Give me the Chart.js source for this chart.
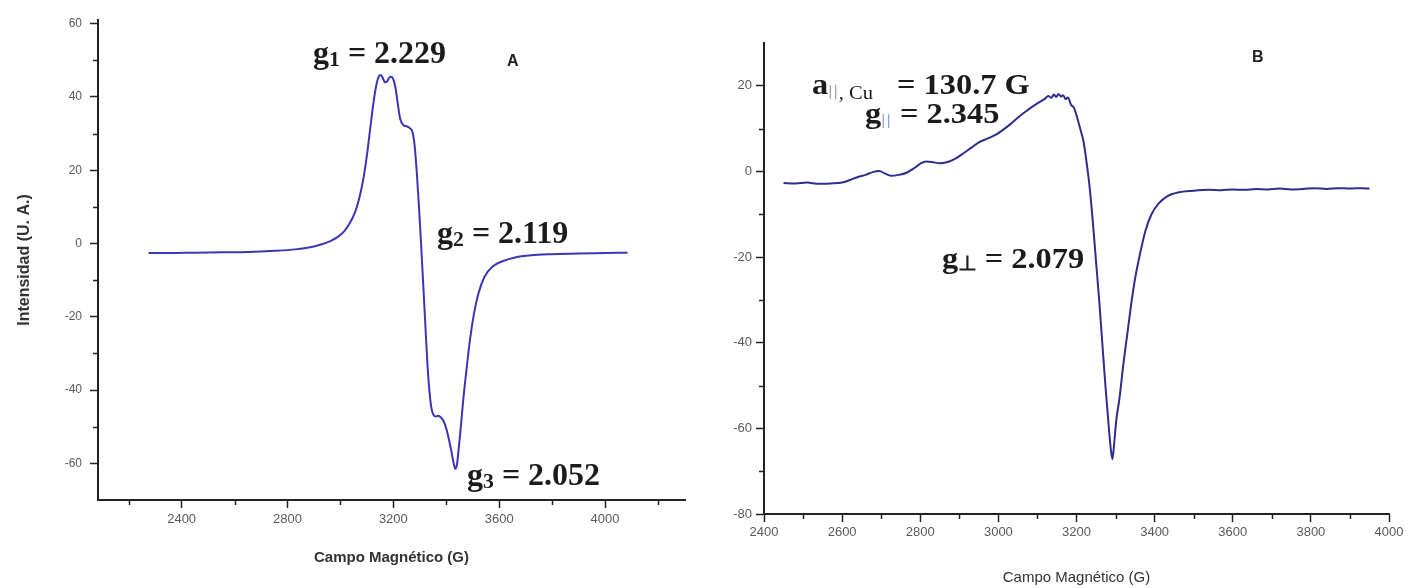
<!DOCTYPE html>
<html>
<head>
<meta charset="utf-8">
<title>Espectros EPR</title>
<script src="https://cdn.jsdelivr.net/npm/chart.js@4.4.1/dist/chart.umd.min.js"></script>
<style>
  html, body { margin: 0; padding: 0; background: #fff; }
  body { width: 1411px; height: 588px; position: relative; overflow: hidden; }
  .panel { position: absolute; top: 0; }
  #panelA { left: 0; width: 705px; height: 588px; }
  #panelB { left: 705px; width: 706px; height: 588px; }
  .lab {
    position: absolute; white-space: nowrap; color: #1b1b1b;
    font-family: "Liberation Serif", "Times New Roman", serif;
    font-weight: bold; font-size: 32px; line-height: 32px;
    transform-origin: 0 0;
  }
  .lab sub { font-size: 0.68em; vertical-align: -0.12em; line-height: 0; }
  .lab.wide { font-size: 30px; line-height: 30px; transform: scaleX(1.08); }
  .par { color: #97a4cc; font-weight: normal; font-family: "Liberation Sans", Arial, sans-serif; font-size: 15px; letter-spacing: 1px; vertical-align: -0.15em; }
  .cu { font-family: "Liberation Serif", "Times New Roman", serif; font-size: 19px; font-weight: normal; vertical-align: -0.25em; }
  .tag {
    position: absolute; color: #222;
    font-family: "Liberation Sans", Arial, sans-serif;
    font-weight: bold; font-size: 16px; line-height: 16px;
  }
</style>
</head>
<body>
<div class="panel" id="panelA"><canvas id="chartA" width="705" height="588"></canvas></div>
<div class="panel" id="panelB"><canvas id="chartB" width="706" height="588"></canvas></div>

<div class="lab" style="left:313px;top:36px">g<sub>1</sub> = 2.229</div>
<div class="tag" style="left:507px;top:53px">A</div>
<div class="lab" style="left:437px;top:216px">g<sub>2</sub> = 2.119</div>
<div class="lab" style="left:467px;top:458px">g<sub>3</sub> = 2.052</div>

<div class="tag" style="left:1252px;top:49px">B</div>
<div class="lab wide" style="left:812px;top:69px">a<span class="par">||</span><span class="cu">, Cu</span></div>
<div class="lab wide" style="left:897px;top:69px">= 130.7 G</div>
<div class="lab wide" style="left:865px;top:98px">g<span class="par">||</span> = 2.345</div>
<div class="lab wide" style="left:942px;top:243px">g<sub>⊥</sub> = 2.079</div>

<script>
// ---- Espectro A ----
const fieldA = [2275, 2350, 2450, 2550, 2650, 2750, 2830, 2880, 2920, 2960,
  2990, 3015, 3035, 3055, 3070, 3085, 3100, 3112, 3124, 3135,
  3145, 3152, 3160, 3168, 3176, 3184, 3192, 3200, 3208, 3216,
  3226, 3238, 3250, 3262, 3272, 3280, 3288, 3296, 3304, 3312,
  3320, 3328, 3336, 3344, 3352, 3360, 3370, 3380, 3390, 3400,
  3410, 3420, 3428, 3434, 3440, 3447, 3455, 3465, 3477, 3490,
  3505, 3522, 3545, 3575, 3610, 3660, 3720, 3800, 3900, 4000, 4085];
const intensityA = [-2.6, -2.6, -2.5, -2.4, -2.3, -2.0, -1.6, -1.1, -0.4, 0.6,
  1.8, 3.4, 5.5, 8.5, 12, 17, 24, 31, 38, 43,
  45.6, 46, 45.2, 44, 44.2, 45.2, 45.5, 44.8, 42.5, 38.5,
  34, 32.3, 32, 31.5, 30.5, 27, 20, 11, 1, -10,
  -21, -32, -40, -45, -46.8, -47.2, -47, -47.5, -48.5, -50.5,
  -53.5, -57, -60, -61.5, -60.5, -56, -50, -42, -34, -26,
  -19, -13.5, -9, -6.3, -4.9, -3.8, -3.2, -2.9, -2.7, -2.6, -2.5];

// ---- Espectro B ----
const fieldB = [2450, 2480, 2510, 2540, 2570, 2600, 2620, 2640, 2660, 2680,
  2695, 2710, 2725, 2745, 2765, 2785, 2800, 2815, 2830, 2850,
  2870, 2890, 2910, 2930, 2950, 2970, 2990, 3010, 3030, 3050,
  3070, 3090, 3105, 3118, 3128, 3136, 3142, 3148, 3154, 3160,
  3166, 3172, 3178, 3186, 3194, 3202, 3210, 3218, 3226, 3234,
  3242, 3250, 3258, 3266, 3274, 3282, 3288, 3292, 3296, 3302,
  3310, 3320, 3330, 3340, 3350, 3362, 3376, 3392, 3410, 3432,
  3460, 3500, 3540, 3570, 3600, 3630, 3660, 3690, 3720, 3750,
  3780, 3810, 3840, 3870, 3900, 3930, 3950];
const intensityB = [-2.7, -2.8, -2.6, -2.9, -2.8, -2.6, -2.0, -1.3, -0.8, -0.1,
  0.1, -0.5, -1.0, -0.8, -0.3, 0.8, 1.8, 2.3, 2.2, 1.9,
  2.2, 3.0, 4.2, 5.5, 6.8, 7.6, 8.4, 9.6, 11.0, 12.6,
  14.0, 15.3, 16.2, 16.9, 17.6, 17.2, 18.0, 17.4, 18.1, 17.5,
  17.8, 16.9, 17.3, 15.6, 14.8, 12.5, 9.8, 7.0, 2.0, -4.0,
  -12, -21, -30, -40, -50, -59, -65, -67.2, -64, -58,
  -53, -45, -38, -31, -25, -19.5, -14, -10, -7.5, -5.8,
  -4.9, -4.5, -4.3, -4.4, -4.2, -4.3, -4.1, -4.2, -4.0, -4.2,
  -4.1, -3.9, -4.1, -3.9, -4.0, -3.9, -4.0];

// labelled ticks
const fieldTicksA = [2400, 2800, 3200, 3600, 4000];
const intensityTicksA = [-60, -40, -20, 0, 20, 40, 60];
const fieldTicksB = [2400, 2600, 2800, 3000, 3200, 3400, 3600, 3800, 4000];
const intensityTicksB = [-80, -60, -40, -20, 0, 20];

// minor ticks sit halfway between labelled ones, inside the axis range
function minorsOf(major, min, max) {
  const half = (major[1] - major[0]) / 2;
  const out = [];
  for (let v = major[0] - half; v <= major[major.length - 1] + half; v += 2 * half) {
    if (v > min && v < max) out.push(v);
  }
  return out;
}

const minorTickPlugin = {
  id: 'minorTicks',
  afterDraw(chart, args, o) {
    const { ctx } = chart;
    const xs = chart.scales.x, ys = chart.scales.y;
    ctx.save();
    ctx.strokeStyle = o.color;
    ctx.lineWidth = o.width;
    ctx.beginPath();
    o.x.forEach(v => {
      const p = Math.round(xs.getPixelForValue(v)) + 0.5;
      ctx.moveTo(p, xs.top);
      ctx.lineTo(p, xs.top + o.len);
    });
    o.y.forEach(v => {
      const p = Math.round(ys.getPixelForValue(v)) + 0.5;
      ctx.moveTo(ys.right, p);
      ctx.lineTo(ys.right - o.len, p);
    });
    ctx.stroke();
    ctx.restore();
  }
};

const SANS = '"Liberation Sans", Arial, sans-serif';

function makeChart(id, cfg) {
  const xMin = cfg.xMin, xMax = cfg.xMax, yMin = cfg.yMin, yMax = cfg.yMax;
  return new Chart(document.getElementById(id), {
    type: 'line',
    data: {
      datasets: [{
        data: cfg.fields.map((f, i) => ({ x: f, y: cfg.values[i] })),
        borderColor: cfg.lineColor,
        borderWidth: 2,
        pointRadius: 0,
        cubicInterpolationMode: 'monotone',
        fill: false
      }]
    },
    options: {
      responsive: false,
      animation: false,
      events: [],
      layout: { padding: cfg.padding },
      plugins: {
        legend: { display: false },
        tooltip: { enabled: false },
        minorTicks: {
          x: minorsOf(cfg.xTicks, xMin, xMax),
          y: minorsOf(cfg.yTicks, yMin, yMax),
          len: cfg.minorLen, color: '#222', width: 1.5
        }
      },
      scales: {
        x: {
          type: 'linear', min: xMin, max: xMax,
          afterBuildTicks: s => { s.ticks = cfg.xTicks.map(v => ({ value: v })); },
          afterFit: s => { s.height = cfg.xHeight; },
          border: { display: true, color: '#222', width: cfg.axisWidth },
          grid: { display: true, drawOnChartArea: false, drawTicks: true,
                  tickLength: cfg.majorLen, tickColor: '#222', tickWidth: 1.5 },
          ticks: { autoSkip: false, maxRotation: 0, padding: cfg.xPad,
                   color: '#5a5a5a', callback: v => String(v),
                   font: { family: SANS, size: cfg.xTickSize } },
          title: { display: true, text: 'Campo Magnético (G)', color: '#333',
                   font: { family: SANS, size: cfg.xTitleSize, weight: cfg.xTitleWeight },
                   padding: { top: 0, bottom: cfg.xTitlePad } }
        },
        y: {
          type: 'linear', min: yMin, max: yMax,
          afterBuildTicks: s => { s.ticks = cfg.yTicks.map(v => ({ value: v })); },
          afterFit: s => { s.width = cfg.yWidth; },
          border: { display: true, color: '#222', width: cfg.axisWidth },
          grid: { display: true, drawOnChartArea: false, drawTicks: true,
                  tickLength: cfg.majorLen, tickColor: '#222', tickWidth: 1.5 },
          ticks: { autoSkip: false, padding: cfg.yPad, color: '#5a5a5a',
                   callback: v => String(v),
                   font: { family: SANS, size: cfg.yTickSize } },
          title: cfg.yTitle ? { display: true, text: cfg.yTitle, color: '#333',
                   font: { family: SANS, size: 16, weight: 'bold' },
                   padding: { top: 15, bottom: 0 } } : { display: false }
        }
      }
    },
    plugins: [minorTickPlugin]
  });
}

makeChart('chartA', {
  fields: fieldA, values: intensityA, lineColor: '#3a36b8',
  xMin: 2084, xMax: 4302, yMin: -70, yMax: 61,
  xTicks: fieldTicksA, yTicks: intensityTicksA,
  padding: { left: 0, top: 20, right: 20, bottom: 0 },
  xHeight: 88, yWidth: 98, axisWidth: 2,
  majorLen: 8, minorLen: 5, xPad: 4, yPad: 8, xTickSize: 13, yTickSize: 12,
  xTitleSize: 15, xTitleWeight: 'bold', xTitlePad: 21,
  yTitle: 'Intensidad (U. A.)'
});

makeChart('chartB', {
  fields: fieldB, values: intensityB, lineColor: '#2e2e8c',
  xMin: 2400, xMax: 4000, yMin: -80, yMax: 30,
  xTicks: fieldTicksB, yTicks: intensityTicksB,
  padding: { left: 0, top: 43, right: 22, bottom: 0 },
  xHeight: 74, yWidth: 59, axisWidth: 2,
  majorLen: 8, minorLen: 5, xPad: 3, yPad: 4, xTickSize: 13, yTickSize: 13,
  xTitleSize: 15, xTitleWeight: 'normal', xTitlePad: 1,
  yTitle: null
});
</script>
</body>
</html>
